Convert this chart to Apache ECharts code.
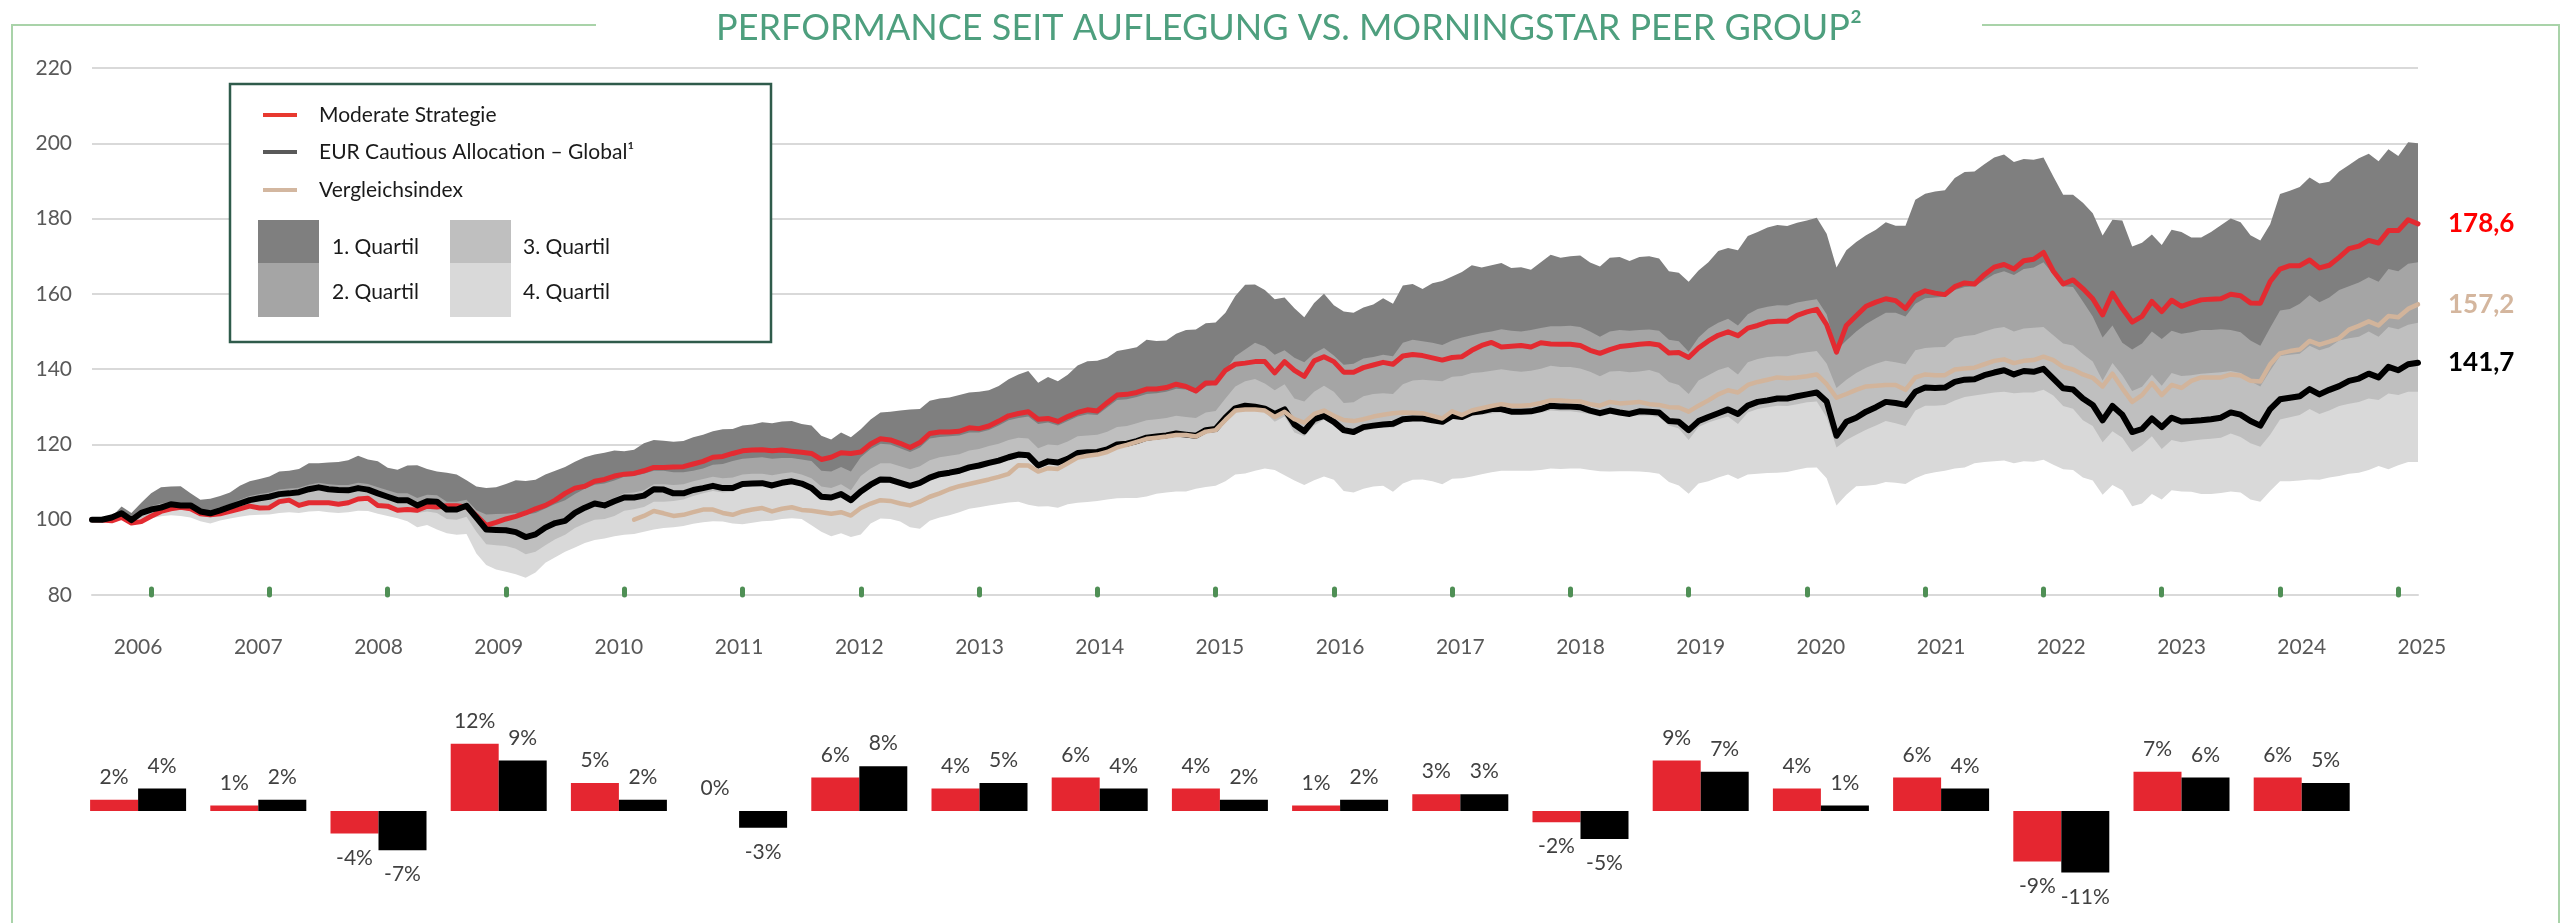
<!DOCTYPE html>
<html lang="de">
<head>
<meta charset="utf-8">
<title>Performance seit Auflegung vs. Morningstar Peer Group</title>
<script src="https://cdn.jsdelivr.net/npm/echarts@6.0.0/dist/echarts.min.js"></script>
<style>
  html, body { margin: 0; padding: 0; background: #fff; }
  #chart { width: 2566px; height: 923px; }
</style>
</head>
<body>
<div id="chart"></div>
<script>
/* global echarts */
// monthly index values, Jul 2005 .. Mar 2025 (237 points)
const moderate = [
  100.0, 99.9, 99.7, 100.6, 99.1, 99.5, 100.9, 102.2, 102.9, 103.3, 102.9, 101.6,
  101.3, 101.6, 102.2, 102.9, 103.6, 103.1, 103.2, 104.8, 105.2, 103.8, 104.5, 104.5,
  104.5, 104.1, 104.5, 105.5, 105.7, 103.8, 103.6, 102.5, 102.7, 102.5, 103.6, 103.4,
  103.7, 103.7, 103.4, 101.1, 98.5, 99.3, 100.2, 100.9, 101.8, 102.9, 103.8, 105.2,
  107.0, 108.4, 108.9, 110.2, 110.7, 111.6, 112.1, 112.3, 113.0, 113.9, 113.9, 114.0,
  114.1, 114.8, 115.5, 116.6, 116.8, 117.6, 118.3, 118.5, 118.6, 118.3, 118.5, 118.2,
  117.9, 117.6, 116.0, 116.6, 117.8, 117.6, 118.0, 120.1, 121.5, 121.2, 120.3, 119.2,
  120.5, 122.9, 123.3, 123.3, 123.5, 124.4, 124.2, 124.9, 126.2, 127.6, 128.2, 128.7,
  126.7, 126.9, 126.1, 127.4, 128.5, 129.2, 128.9, 131.1, 133.1, 133.3, 133.8, 134.7,
  134.7, 135.1, 136.0, 135.4, 134.2, 136.3, 136.3, 139.7, 141.3, 141.6, 142.0, 142.0,
  139.0, 142.0, 139.7, 138.1, 142.2, 143.3, 142.0, 139.2, 139.2, 140.4, 141.1, 141.8,
  141.3, 143.5, 143.9, 143.6, 143.0, 142.4, 143.1, 143.3, 145.0, 146.3, 147.1, 145.9,
  146.1, 146.3, 145.9, 147.0, 146.7, 146.6, 146.6, 146.3, 145.0, 144.2, 145.2, 146.0,
  146.3, 146.6, 146.8, 146.4, 144.3, 144.4, 143.1, 145.6, 147.5, 149.0, 149.9, 148.9,
  150.9, 151.6, 152.5, 152.7, 152.7, 154.3, 155.2, 155.9, 151.8, 144.5, 151.6, 154.2,
  156.7, 157.8, 158.7, 158.2, 156.1, 159.6, 160.8, 160.2, 159.8, 161.9, 162.9, 162.6,
  165.1, 167.1, 167.8, 166.6, 168.8, 169.2, 171.0, 166.0, 162.6, 163.7, 161.4, 158.7,
  154.4, 160.2, 156.1, 152.5, 154.0, 158.0, 155.3, 158.3, 156.7, 157.6, 158.4, 158.6,
  158.7, 159.9, 159.5, 157.6, 157.5, 163.3, 166.6, 167.5, 167.5, 169.0, 166.9, 167.6,
  169.7, 172.0, 172.7, 174.2, 173.5, 176.8, 176.8, 179.7, 178.6
]
const peerGroup = [
  100.0, 100.0, 100.6, 101.7, 99.9, 101.8, 102.7, 103.2, 104.1, 103.8, 103.8, 102.2,
  101.7, 102.5, 103.4, 104.3, 105.2, 105.7, 106.1, 106.8, 107.0, 107.3, 108.1, 108.6,
  108.1, 107.9, 107.8, 108.4, 108.0, 107.0, 106.1, 105.2, 105.2, 103.8, 104.9, 104.8,
  102.7, 102.7, 103.7, 100.6, 97.4, 97.3, 97.2, 96.7, 95.4, 96.1, 97.9, 99.1,
  99.7, 101.8, 103.2, 104.3, 103.8, 104.9, 105.9, 105.9, 106.4, 108.1, 108.0, 107.0,
  107.0, 107.9, 108.4, 109.0, 108.4, 108.4, 109.5, 109.6, 109.7, 109.1, 109.8, 110.2,
  109.6, 108.4, 106.1, 105.9, 106.8, 105.2, 107.5, 109.3, 110.7, 110.6, 109.8, 109.0,
  109.8, 111.2, 112.1, 112.5, 113.0, 113.9, 114.4, 115.1, 115.7, 116.6, 117.3, 117.1,
  114.4, 115.5, 115.2, 116.2, 117.7, 117.9, 118.0, 118.7, 120.0, 120.2, 120.9, 121.8,
  122.1, 122.4, 122.9, 122.6, 122.3, 123.8, 124.1, 127.1, 129.6, 130.3, 130.0, 129.5,
  128.1, 129.3, 125.3, 123.5, 126.7, 127.6, 126.0, 123.8, 123.3, 124.6, 125.0, 125.3,
  125.5, 126.7, 126.9, 126.9, 126.4, 126.0, 127.6, 127.3, 128.5, 128.8, 129.4, 129.4,
  128.7, 128.7, 128.8, 129.4, 130.3, 130.1, 130.1, 129.9, 129.0, 128.3, 129.0, 128.5,
  128.1, 128.8, 128.7, 128.5, 126.2, 126.0, 123.8, 126.2, 127.3, 128.3, 129.3, 128.1,
  130.3, 131.3, 131.7, 132.2, 132.2, 132.8, 133.3, 133.8, 131.4, 122.3, 126.0, 127.1,
  128.7, 129.9, 131.3, 131.0, 130.5, 134.0, 135.1, 135.0, 135.1, 136.6, 137.2, 137.3,
  138.4, 139.1, 139.7, 138.6, 139.5, 139.3, 140.1, 137.5, 134.9, 134.6, 132.2, 130.5,
  126.4, 130.2, 127.9, 123.3, 124.1, 126.9, 124.6, 127.1, 126.1, 126.2, 126.4, 126.7,
  127.1, 128.5, 127.9, 126.2, 125.0, 129.4, 132.0, 132.4, 132.8, 134.7, 133.3, 134.5,
  135.5, 136.9, 137.5, 138.8, 137.8, 140.6, 139.7, 141.3, 141.7
]
// Vergleichsindex starts in Feb 2010 (month 55)
const benchmarkStart = 55
const benchmark = [
  100.0, 101.0, 102.3, 101.7, 101.0,
  101.3, 102.0, 102.7, 102.7, 101.8, 101.3, 102.2, 102.7, 103.1, 102.2, 102.9, 103.3,
  102.6, 102.4, 102.0, 101.6, 102.0, 101.1, 103.1, 104.3, 105.2, 105.0, 104.3, 103.8,
  104.8, 106.1, 107.0, 108.1, 108.9, 109.5, 110.1, 110.7, 111.4, 112.2, 114.5, 114.4,
  112.8, 113.7, 113.5, 115.0, 116.5, 117.0, 117.3, 118.0, 119.2, 119.9, 120.7, 121.5,
  121.8, 122.1, 122.5, 122.5, 122.1, 123.4, 123.8, 126.5, 129.0, 129.3, 129.3, 129.0,
  127.3, 128.7, 126.7, 125.8, 128.1, 129.0, 127.6, 126.5, 126.2, 126.7, 127.4, 127.9,
  128.3, 128.5, 128.4, 128.3, 127.6, 126.9, 128.8, 127.8, 129.0, 129.6, 130.2, 130.7,
  130.3, 130.3, 130.5, 131.0, 131.7, 131.7, 131.5, 131.4, 130.7, 130.3, 131.3, 130.9,
  131.1, 131.3, 130.7, 130.5, 129.9, 129.8, 128.7, 130.3, 131.7, 133.3, 134.4, 133.8,
  135.8, 136.6, 137.2, 137.8, 137.6, 137.8, 138.1, 138.6, 136.0, 132.4, 133.4, 134.5,
  135.4, 135.6, 135.8, 135.8, 134.5, 137.8, 138.6, 138.4, 138.4, 139.9, 140.2, 140.4,
  141.3, 142.2, 142.6, 141.6, 142.2, 142.4, 143.3, 142.4, 140.6, 139.9, 138.6, 137.7,
  135.4, 138.8, 134.9, 131.3, 133.1, 136.3, 133.1, 135.8, 135.0, 136.9, 137.8, 137.8,
  137.8, 138.6, 138.3, 136.9, 136.7, 141.3, 144.2, 144.8, 145.2, 147.5, 146.5, 147.3,
  148.2, 150.5, 151.5, 152.7, 151.6, 154.1, 153.8, 156.0, 157.2
]

// peer group quartile boundaries
const peerMax = [
  100.0, 100.3, 100.8, 103.5, 101.8, 104.5, 107.0, 108.6, 108.8, 108.9, 107.0, 105.3,
  105.6, 106.3, 107.2, 109.0, 110.2, 110.8, 111.5, 112.8, 113.0, 113.5, 115.0, 115.0,
  115.2, 115.3, 115.8, 117.0, 116.0, 115.5, 113.8, 113.3, 114.4, 114.5, 113.5, 112.8,
  112.5, 112.0, 110.5, 108.8, 108.4, 108.6, 109.5, 110.5, 110.3, 110.6, 112.0, 113.0,
  114.0, 115.4, 116.6, 117.3, 117.8, 118.4, 118.2, 118.6, 120.3, 121.2, 121.0, 120.7,
  120.9, 121.9, 122.6, 123.5, 124.0, 124.1, 125.0, 125.3, 125.9, 125.6, 126.1, 126.2,
  125.4, 125.0, 122.3, 121.3, 123.2, 121.9, 124.0, 126.6, 128.5, 128.7, 129.0, 129.3,
  129.4, 131.6, 132.2, 132.5, 133.1, 133.8, 134.0, 134.4, 135.5, 137.3, 138.6, 139.5,
  136.4, 137.9, 136.8, 138.5, 141.0, 142.1, 142.2, 143.0, 144.8, 145.3, 145.8, 147.8,
  147.5, 147.6, 149.4, 150.4, 150.5, 152.2, 152.4, 155.0, 159.4, 162.4, 162.5, 161.0,
  158.6, 159.0, 156.2, 153.8, 157.6, 160.0, 157.0, 155.3, 155.0, 156.4, 157.2, 158.8,
  157.4, 162.2, 162.6, 161.3, 162.8, 163.4, 164.6, 165.8, 167.6, 167.0, 167.6, 168.2,
  166.9, 167.1, 166.4, 168.4, 170.4, 169.6, 170.0, 170.2, 168.3, 167.3, 169.6, 169.8,
  168.7, 169.8, 170.0, 169.4, 166.0, 165.6, 163.2, 166.2, 168.4, 171.4, 172.2, 171.6,
  175.4, 176.4, 177.6, 178.3, 178.0, 178.9, 179.5, 180.2, 176.0, 167.0, 171.6, 173.8,
  175.6, 177.0, 179.0, 178.1, 178.1, 185.0, 186.6, 187.2, 187.5, 190.8, 192.4, 192.5,
  194.4, 196.2, 197.0, 195.0, 195.8, 195.6, 196.2, 191.2, 186.3, 186.3, 184.2, 181.4,
  175.5, 179.7, 179.5, 172.6, 173.6, 175.8, 173.0, 177.0, 176.4, 175.0, 175.0, 176.4,
  178.2, 180.0, 179.0, 175.6, 174.2, 178.5, 186.5, 187.4, 188.4, 190.9, 189.3, 189.8,
  192.5, 194.2, 196.0, 197.2, 195.2, 198.4, 196.6, 200.3, 200.0
]
const peerQ1 = [
  100.0, 100.1, 100.5, 101.9, 100.6, 102.3, 103.6, 104.3, 104.8, 104.5, 104.2, 102.8,
  102.5, 103.3, 104.2, 105.3, 106.3, 106.8, 107.2, 108.0, 108.3, 108.5, 109.3, 109.8,
  109.4, 109.2, 109.2, 109.8, 109.5, 108.6, 107.8, 107.0, 107.0, 105.8, 106.6, 106.5,
  104.8, 104.8, 105.3, 102.5, 101.4, 101.5, 101.6, 101.8, 101.3, 101.8, 103.0, 104.2,
  105.2, 106.8, 108.2, 109.3, 109.6, 110.4, 111.4, 111.6, 112.2, 113.0, 113.0, 112.6,
  112.6, 113.0, 113.6, 114.6, 114.8, 115.6, 116.2, 116.4, 116.6, 116.2, 116.4, 116.4,
  116.0, 115.6, 113.0, 112.8, 114.0, 112.8, 116.6, 118.8, 120.2, 120.0, 119.0, 118.0,
  119.2, 121.6, 122.0, 122.2, 122.4, 123.2, 123.2, 123.8, 125.0, 126.4, 127.0, 127.4,
  125.4, 125.8, 125.0, 126.2, 127.4, 128.0, 127.8, 129.8, 131.8, 132.0, 132.6, 133.4,
  133.6, 134.0, 134.8, 134.6, 133.6, 135.4, 136.0, 139.6, 143.4, 145.2, 147.0, 146.0,
  143.8, 145.0, 143.0, 141.8, 144.2, 145.6, 143.6, 141.2, 141.4, 142.8, 143.2, 143.8,
  143.4, 147.0, 147.8, 147.4, 147.0, 146.4, 147.6, 148.4, 149.0, 149.6, 150.0, 150.6,
  150.2, 150.0, 150.4, 150.9, 151.4, 151.4, 151.5, 151.2, 150.0, 148.6, 150.0, 150.4,
  150.2, 150.4, 150.5, 150.2, 147.8, 147.4, 144.6, 148.4, 150.8, 152.3, 153.4, 151.6,
  154.6, 156.0, 156.6, 157.0, 156.9, 157.7, 158.2, 158.6, 154.6, 145.0, 147.6, 150.0,
  152.0, 153.5, 155.0, 155.0, 154.0, 157.4, 158.8, 159.0, 159.2, 161.0, 161.8, 162.0,
  163.6, 165.2, 166.0, 165.0, 166.6, 167.0, 168.4, 165.2, 162.0, 161.8, 158.0, 154.0,
  148.4, 151.6, 147.0, 145.2, 146.8, 150.0, 148.0, 150.2, 149.4, 149.8, 150.4, 150.4,
  150.6, 150.4, 149.8, 147.6, 146.2, 151.0, 155.6, 156.0, 157.4, 159.6, 157.8, 159.0,
  161.0, 162.0, 163.0, 164.4, 163.2, 166.6, 166.0, 168.0, 168.4
]
const peerMedian = [
  100.0, 100.0, 100.2, 101.2, 100.0, 101.4, 102.5, 103.2, 103.8, 103.6, 103.4, 102.0,
  101.6, 102.4, 103.2, 104.1, 105.0, 105.4, 105.8, 106.5, 106.8, 107.0, 107.8, 108.3,
  107.8, 107.6, 107.5, 108.1, 107.7, 106.8, 105.9, 105.0, 105.0, 103.6, 104.6, 104.5,
  102.5, 102.4, 103.4, 100.3, 98.0, 97.8, 97.7, 97.4, 96.3, 96.9, 98.5, 99.8,
  100.5, 102.5, 104.0, 105.0, 104.8, 105.8, 107.0, 107.2, 107.8, 109.4, 109.4, 109.2,
  109.4, 110.2, 110.8, 111.4, 111.0, 111.2, 112.0, 112.2, 112.2, 111.8, 112.3, 112.6,
  112.0, 111.0, 108.8, 108.4, 109.4, 107.8, 111.6, 113.6, 115.0, 115.0, 114.2, 113.4,
  114.2, 115.8, 116.6, 117.0, 117.4, 118.4, 118.8, 119.6, 120.2, 121.2, 121.8, 121.6,
  119.0, 120.0, 119.8, 120.8, 122.2, 122.4, 122.6, 123.4, 124.6, 124.9, 125.6, 126.4,
  126.7, 127.0, 127.6, 127.3, 127.0, 128.5, 128.9, 132.2, 135.4, 136.8, 137.4, 136.2,
  134.4, 136.0, 132.2, 131.4, 134.0, 135.6, 134.0, 131.0, 131.2, 132.8, 133.4, 133.6,
  133.4, 136.0, 137.0, 137.2, 137.0, 136.8, 138.0, 138.2, 139.0, 139.2, 139.6, 140.0,
  139.6, 139.3, 139.6, 140.1, 140.9, 140.6, 140.6, 140.2, 139.3, 138.1, 139.4, 139.5,
  139.2, 139.4, 139.8, 139.0, 136.6, 135.8, 133.4, 137.0, 138.4, 139.8, 140.6, 138.6,
  141.8, 142.7, 143.2, 143.4, 143.4, 144.1, 144.5, 144.8, 141.5, 135.0, 137.2, 139.0,
  140.4, 141.4, 142.2, 141.8, 141.3, 145.0, 145.6, 145.8, 145.9, 148.2, 148.8, 149.1,
  150.0, 150.8, 151.2, 150.0, 150.8, 151.0, 151.2, 149.0, 146.8, 146.3, 144.0, 142.0,
  137.0, 141.6, 138.4, 134.2, 135.3, 138.5, 135.6, 139.0, 138.2, 138.4, 138.8, 139.0,
  139.2, 139.5, 139.0, 136.8, 135.4, 139.6, 143.5, 143.8, 144.1, 146.2, 145.0, 145.8,
  147.6, 148.2, 148.6, 150.0, 148.6, 151.2, 150.6, 151.8, 152.3
]
const peerQ3 = [
  100.0, 99.9, 99.8, 100.6, 99.5, 100.4, 101.5, 102.0, 102.6, 102.8, 102.4, 101.0,
  100.6, 101.3, 102.0, 102.6, 103.2, 103.4, 103.7, 104.2, 104.5, 104.3, 104.8, 105.0,
  104.8, 104.6, 104.8, 105.2, 105.0, 104.0, 103.4, 102.6, 102.4, 101.8, 102.2, 101.8,
  100.2, 100.0, 100.8, 96.8, 93.5, 93.2, 93.0, 92.3, 90.8, 91.5, 93.2, 94.8,
  96.0, 97.8, 99.0, 100.0, 100.2, 101.0, 102.4, 102.8, 103.4, 104.8, 104.8, 105.0,
  105.4, 106.3, 107.0, 107.6, 107.2, 107.4, 108.8, 109.0, 109.2, 108.6, 109.3, 109.7,
  109.0, 107.8, 105.6, 105.2, 106.2, 104.6, 106.6, 108.5, 109.9, 109.8, 109.0, 108.2,
  109.0, 110.4, 111.3, 111.7, 112.2, 113.1, 113.6, 114.3, 114.9, 115.8, 116.5, 116.3,
  113.6, 114.7, 114.4, 115.4, 116.9, 117.1, 117.2, 117.9, 119.2, 119.4, 120.1, 121.0,
  121.3, 121.6, 122.1, 121.8, 121.5, 123.0, 123.3, 125.8, 128.4, 129.2, 129.5, 128.6,
  126.0, 127.4, 123.2, 122.2, 125.0, 126.6, 125.2, 122.8, 122.6, 123.6, 124.1, 124.6,
  124.4, 125.8, 126.2, 126.2, 125.9, 125.4, 126.8, 126.8, 127.6, 127.9, 128.2, 128.5,
  128.2, 128.1, 128.2, 128.4, 129.0, 128.8, 128.8, 128.5, 128.0, 127.4, 128.1, 127.9,
  127.7, 127.6, 127.7, 127.2, 125.0, 124.2, 121.2, 124.6, 125.8, 126.7, 127.4, 125.4,
  128.5, 129.4, 129.9, 130.3, 130.2, 130.7, 131.2, 131.4, 127.2, 119.2, 121.2, 122.6,
  123.9, 125.0, 126.2, 125.6, 124.9, 129.0, 130.3, 130.3, 130.5, 131.7, 132.6, 133.0,
  133.4, 133.8, 134.0, 133.6, 133.8, 133.8, 134.5, 133.0, 130.2, 129.5, 126.4, 124.9,
  120.6, 123.5, 121.8, 118.0, 119.8, 122.2, 118.8, 121.2, 120.6, 121.0, 121.3, 121.5,
  121.8, 122.9, 122.0, 120.3, 119.4, 122.6, 126.6, 127.2, 127.8, 129.4, 128.1, 129.0,
  130.2, 130.8, 131.3, 132.2, 131.8, 133.5, 133.1, 134.0, 134.0
]
const peerMin = [
  100.0, 99.7, 99.4, 100.0, 98.9, 99.6, 100.3, 100.9, 101.2, 101.0, 100.6, 99.6,
  99.0, 99.8, 100.3, 100.8, 101.2, 101.3, 101.4, 101.8, 102.0, 101.8, 102.2, 102.3,
  102.0, 101.8, 102.0, 102.4, 102.3, 101.6, 101.0, 100.4, 99.6, 98.0, 98.6, 97.4,
  96.4, 96.0, 96.2, 91.0, 88.0, 86.8, 86.2, 85.5, 84.6, 86.0, 88.6, 90.0,
  91.5, 92.6, 93.8, 94.6, 95.0, 95.6, 96.0, 96.2, 96.8, 97.4, 97.8, 98.0,
  98.3, 98.9, 99.3, 99.6, 99.5, 99.0, 98.8, 99.2, 99.6, 99.7, 100.2, 100.4,
  100.2, 98.5, 96.8, 95.6, 96.4, 95.4, 96.1, 99.0, 100.3, 100.2, 99.5, 98.0,
  97.6, 99.7, 100.6, 101.2, 102.0, 102.9, 103.3, 103.8, 104.2, 104.6, 104.8, 104.0,
  103.5, 103.6, 103.2, 104.1, 104.5, 104.7, 105.0, 105.4, 105.7, 105.8, 105.8, 106.2,
  106.9, 107.2, 107.5, 107.5, 108.2, 108.7, 109.0, 110.2, 112.0, 112.3, 113.0, 113.6,
  113.2, 111.8, 110.4, 109.2, 110.5, 111.5, 110.6, 107.6, 107.2, 108.2, 108.8, 109.0,
  107.4, 109.6, 110.6, 110.7, 110.2, 109.4, 110.9, 111.0, 111.5, 112.1, 112.6, 113.0,
  113.0, 113.0, 113.0, 113.2, 113.6, 113.5, 113.6, 113.6, 113.2, 112.9, 112.8, 112.9,
  112.9, 112.8, 112.6, 112.2, 110.0, 109.1, 106.9, 109.6, 110.2, 111.2, 112.0, 110.8,
  112.0, 112.2, 112.4, 112.5, 112.7, 113.3, 113.8, 113.9, 111.0, 103.8, 106.6, 108.9,
  109.0, 109.3, 110.0, 109.8, 109.5, 111.0, 112.1, 112.6, 113.0, 113.6, 113.9, 115.0,
  115.3, 115.5, 115.7, 115.0, 115.5, 115.4, 115.9, 114.6, 113.4, 113.2, 111.2, 110.4,
  106.6, 109.2, 107.8, 103.6, 104.3, 106.8, 105.4, 107.8, 107.5, 107.4, 106.8, 106.8,
  107.1, 107.5, 107.2, 105.4, 104.8, 107.6, 110.2, 110.2, 110.4, 110.7, 110.6, 111.2,
  111.6, 112.2, 112.5, 113.2, 114.3, 113.4, 114.5, 115.3, 115.3
]

// calendar year returns in %
const barYears = ['2006', '2007', '2008', '2009', '2010', '2011', '2012', '2013', '2014', '2015',
  '2016', '2017', '2018', '2019', '2020', '2021', '2022', '2023', '2024', '2025']
const returnsModerate = [2, 1, -4, 12, 5, 0, 6, 4, 6, 4, 1, 3, -2, 9, 4, 6, -9, 7, 6, null]
const returnsPeer = [4, 2, -7, 9, 2, -3, 8, 5, 4, 2, 2, 3, -5, 7, 1, 4, -11, 6, 5, null]

const months = []
for (let i = 0; i < moderate.length; i++) {
  const m = 6 + i
  months.push(`${2005 + Math.floor(m / 12)}-${String(m % 12 + 1).padStart(2, '0')}`)
}
const benchmarkData = new Array(benchmarkStart).fill(null).concat(benchmark)

const FONT = 'Lato'
const fmt = v => v.toFixed(1).replace('.', ',')

function bandSeries (data, color) {
  return {
    type: 'line',
    data,
    symbol: 'none',
    silent: true,
    lineStyle: { width: 0 },
    areaStyle: { color, opacity: 1, origin: 'start' },
    z: 2
  }
}

function lineSeries (name, data, color, width, labelColor) {
  return {
    name,
    type: 'line',
    data,
    symbol: 'none',
    lineStyle: { color, width, join: 'round', cap: 'round' },
    z: 3,
    endLabel: {
      show: true,
      distance: 30,
      formatter: p => fmt(p.value),
      color: labelColor,
      fontFamily: FONT,
      fontSize: 26,
      fontWeight: 'bold'
    }
  }
}

function barData (values) {
  return values.map(v => v === null ? '-' : {
    value: v,
    label: v < 0 ? { position: 'bottom', distance: 14 } : { position: 'top', distance: 12 }
  })
}

function barSeries (data, color) {
  return {
    type: 'bar',
    xAxisIndex: 1,
    yAxisIndex: 1,
    data: barData(data),
    barWidth: 48,
    barGap: '0%',
    itemStyle: { color },
    label: {
      show: true,
      formatter: '{c}%',
      color: '#404040',
      fontFamily: FONT,
      fontSize: 21
    }
  }
}

// legend box drawn by hand: three lines and a 2x2 quartile block
function legendGraphics () {
  const items = []
  items.push({
    type: 'rect',
    z: 50,
    shape: { x: 230, y: 84, width: 541, height: 258 },
    style: { fill: '#fff', stroke: '#2f5b4b', lineWidth: 2.5 }
  })
  const rows = [
    ['Moderate Strategie', '#e8392f', 115],
    ['EUR Cautious Allocation – Global¹', '#595959', 152],
    ['Vergleichsindex', '#d3b7a0', 190]
  ]
  rows.forEach(([label, color, y]) => {
    items.push({ type: 'rect', z: 51, shape: { x: 263, y: y - 2, width: 34, height: 4 }, style: { fill: color } })
    items.push({
      type: 'text',
      z: 52,
      x: 319,
      y,
      style: { text: label, fill: '#1a1a1a', font: `21px ${FONT}`, verticalAlign: 'middle' }
    })
  })
  const quartiles = [
    ['1. Quartil', '#7f7f7f', 258, 220, 43, 332, 247],
    ['2. Quartil', '#a5a5a5', 258, 263, 54, 332, 292],
    ['3. Quartil', '#bfbfbf', 450, 220, 43, 523, 247],
    ['4. Quartil', '#d9d9d9', 450, 263, 54, 523, 292]
  ]
  quartiles.forEach(([label, color, x, y, h, tx, ty]) => {
    items.push({ type: 'rect', z: 51, shape: { x, y, width: 61, height: h }, style: { fill: color } })
    items.push({
      type: 'text',
      z: 52,
      x: tx,
      y: ty,
      style: { text: label, fill: '#1a1a1a', font: `21px ${FONT}`, verticalAlign: 'middle' }
    })
  })
  return items
}

const chart = echarts.init(document.getElementById('chart'))
const option = {
  animation: false,
  backgroundColor: '#fff',
  textStyle: { fontFamily: FONT },
  grid: [
    { left: 92, right: 148, top: 68, height: 527 },
    { left: 78, right: 84, top: 699, height: 224 }
  ],
  xAxis: [
    {
      type: 'category',
      gridIndex: 0,
      data: months,
      boundaryGap: false,
      z: 5,
      axisLine: { lineStyle: { color: '#d9d9d9', width: 2 } },
      axisTick: {
        show: true,
        inside: true,
        length: 6,
        interval: (i, v) => v.endsWith('-01'),
        lineStyle: { color: '#4f8f55', width: 5, cap: 'round' }
      },
      axisLabel: { show: false },
      splitLine: { show: false }
    },
    {
      type: 'category',
      gridIndex: 1,
      data: barYears,
      position: 'top',
      axisLine: { show: false },
      axisTick: { show: false },
      axisLabel: { interval: 0, margin: 41, color: '#595959', fontSize: 21, fontFamily: FONT }
    }
  ],
  yAxis: [
    {
      type: 'value',
      gridIndex: 0,
      min: 80,
      max: 220,
      interval: 20,
      axisLine: { show: false },
      axisTick: { show: false },
      axisLabel: { margin: 20, color: '#595959', fontSize: 21, fontFamily: FONT },
      splitLine: { lineStyle: { color: '#d9d9d9', width: 2 } }
    },
    {
      type: 'value',
      gridIndex: 1,
      min: -20,
      max: 20,
      show: false
    }
  ],
  series: [
    bandSeries(peerMax, '#7f7f7f'),
    bandSeries(peerQ1, '#a5a5a5'),
    bandSeries(peerMedian, '#bfbfbf'),
    bandSeries(peerQ3, '#d9d9d9'),
    bandSeries(peerMin, '#ffffff'),
    lineSeries('Moderate Strategie', moderate, '#e32b31', 5, '#ff0000'),
    lineSeries('EUR Cautious Allocation – Global', peerGroup, '#000000', 6, '#000000'),
    lineSeries('Vergleichsindex', benchmarkData, '#d2b49b', 4.5, '#d4b69e'),
    barSeries(returnsModerate, '#e52630'),
    barSeries(returnsPeer, '#000000')
  ],
  graphic: [
    {
      type: 'polyline',
      z: 50,
      shape: { points: [[12, 923], [12, 25], [596, 25]] },
      style: { stroke: '#a9d3a9', lineWidth: 2, fill: null }
    },
    {
      type: 'polyline',
      z: 50,
      shape: { points: [[1982, 25], [2559, 25], [2559, 923]] },
      style: { stroke: '#a9d3a9', lineWidth: 2, fill: null }
    },
    {
      type: 'text',
      z: 50,
      x: 1289,
      y: 28,
      style: {
        text: 'PERFORMANCE SEIT AUFLEGUNG VS. MORNINGSTAR PEER GROUP²',
        fill: '#4e9f7e',
        font: `36px ${FONT}`,
        align: 'center',
        verticalAlign: 'middle'
      }
    }
  ].concat(legendGraphics())
}
chart.setOption(option)
</script>
</body>
</html>
